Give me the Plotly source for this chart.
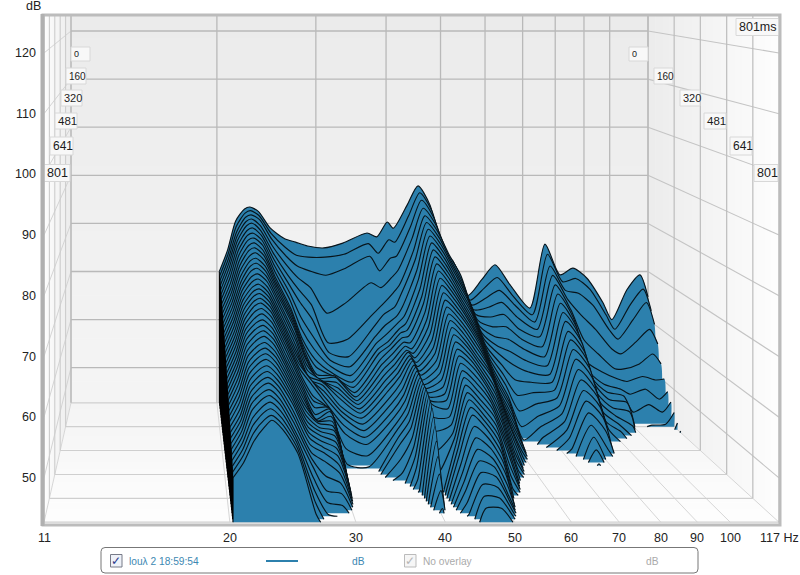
import math
import plotly.graph_objects as go

FREQS = [20.2,20.9,21.6,22.4,22.9,23.7,24.9,26.4,27.6,29.0,31.0,33.5,37.0,38.5,40.2,41.2,43.6,45.6,47.9,50.3,52.6,55.9,59.3,62.5,66.5,72.1,76.7,81.6,86.0,91.1,97.3,100.9,107.3,113.2,117.0]
SLICE_MS = [0,20,40,60,80,100,120,140,160,180,200,220,240,260,280,300,320,340,360,380,400,421,441,461,481,501,521,541,561,581,601,621,641,661,681,701,721,741,761,781,801]

S00 = [70,74.5,80.5,83,83.4,82.5,79,76.8,76.1,75.3,74.9,75.9,78,77.2,80.3,79,83.8,87.8,83.8,74.5,72.2,65,68.4,71.4,67.2,62.4,75.7,69.3,70.7,68.6,63.5,60,66.2,69.3,64.7]
S01 = [69.5,74,79.7,82.5,83,82,78.3,75.4,73.8,73.4,73.4,74,76.2,74.2,77,76.5,82,86.7,83,74.8,71.8,64.5,67,69.2,65.5,61.5,74,68.3,69,66.8,61.5,58.5,63.5,66.8,62.3]
S02 = [69,73.5,79,82,82.5,81.5,77.5,74,72,71,70.1,71.5,74,71,73.6,74,80,85.5,82,75,71.5,64,65.5,67,64,60.5,72,67,66.4,64,59,57,61,64.5,60]
S03 = [68.5,73,78.5,81.5,82,80.7,76.5,72.5,70,68,62.8,65,69,68,70.1,71.5,78,84.2,81,75,71.2,63.5,64,65,62,59.5,70.5,65.5,62.4,59.5,55.5,54.5,57,59.5,56.5]
S04 = [68,72.5,78,81,81.5,80,75.5,71,68,65,57.3,58,63,65,67.4,69,76,83,80,75,71,63,62.5,63,60,58.5,69,64,57.9,55,52,52,53,55,53]
S05 = [67.5,71.9,77.4,80.4,80.9,79.4,74.6,69.7,66,62.5,55.8,55,61,63.5,65,67.5,74.5,82,79,74.2,70,62.3,61,61,58.5,57,67.6,62.8,54,52,50.5,50,51,50.3,50.5]
S06 = [67,71.3,76.8,79.8,80.2,78.8,73.7,68.4,63.5,59.5,54.8,53.5,59.5,61.8,63.5,65.5,72.8,81,78,73.4,69.1,61.5,59.5,59,57,55.5,66.2,61.6,52.5,50,49,48,49,47,48.5]
S07 = [66.5,70.6,76.2,79.2,79.6,78.2,72.8,67.2,61.5,57.5,54,52.3,58.7,60.5,62.7,64,71.4,80,77,72.5,68.3,60.7,58.2,57,55.2,54.2,64.8,60.5,51.7,49,48.2,45,46.5,45,47]
S08 = [66,70,75.5,78.5,79,77.5,72,66,60,56,53.3,51.5,58,59.5,62,63,70,79,76,71.5,67.5,60,57,55,53.5,53,63.5,59.5,51,48,47.5,42,43,43.2,45.5]
S09 = [65.5,69.5,74.9,77.9,78.4,76.9,71.5,65.5,59.3,55,53.2,51,57.7,59.2,61.7,62.2,68.8,78,75,70.6,66.6,59.1,55.5,52.5,52,52,62,58.2,49.7,47,46.2,40,40,40,44]
S10 = [65,69,74.3,77.2,77.8,76.3,71,65,58.8,54,53.8,50.5,57,59,61.2,61.5,67.8,77,74,69.7,65.8,58.3,54,50,50.5,51,60.8,57,48.5,46,44,40,40,40,43]
S11 = [64.5,68.5,73.6,76.6,77.1,75.6,70.5,64.5,58.3,53.8,54,50.2,56.5,58.5,60.8,60.7,66.6,76,73,68.8,64.9,57.4,52.5,47.5,48.8,50,59.4,55.8,47.2,45,42,40,40,40,40]
S12 = [64,68,73,76,76.5,75,70,64,58,54,53.5,50,56,58,60.5,60,65.5,75,72,68,64,56.5,51,45,47,49,58,54.5,46,44,40,40,40,40,40]
S13 = [63.5,67.5,72.5,75.4,75.9,74.4,69.4,63.2,57.4,54.5,53,49.8,55.5,57.6,60.2,59.6,64.6,74,71.1,67.2,63.2,55.6,50,43,45.5,48,56.5,53,45,42,40,40,40,40,40]
S14 = [63,67,72,74.7,75.2,73.8,68.8,62.5,56.8,55,52.5,49.5,55,57.2,60.3,59.2,63.7,73,70.2,66.5,62.5,54.7,49,40,44,47,55,51.8,40,40,40,40,40,40,40]
S15 = [62.5,66.5,71.5,74.1,74.6,73.1,68.1,61.7,56.2,55.2,52,49.2,54.5,56.8,60.1,58.8,62.8,72,69.3,65.7,61.8,53.8,48,40,42.5,46,53.5,50.4,40,40,40,40,40,40,40]
S16 = [62,66,71,73.5,74,72.5,67.5,61,56,55,51,48.8,54,56.5,60,58.5,62,71,68.5,65,61,53,47,40,41,45,52,49,40,40,40,40,40,40,40]
S17 = [61.5,65.5,70.5,73,73.5,72,67,60.5,56.5,54.4,50.5,48.2,53.2,55.9,60,58.1,61.3,70.1,67.6,64.1,60.3,52.2,46,40,40,43.5,50.3,47,40,40,40,40,40,40,40]
S18 = [61,65,70,72.5,73,71.5,66.5,60,57,53.8,50,47.5,52.5,55.2,59.7,57.8,60.5,69.2,66.8,63.2,59.7,51.5,45,40,40,42,48.5,44,40,40,40,40,40,40,40]
S19 = [60.5,64.5,69.5,72,72.5,71,66,59.5,56.5,53.2,49,46.8,51.7,54.6,59.7,57.4,59.7,68.4,65.9,62.3,59,50.7,44,40,40,40,46.8,41,40,40,40,40,40,40,40]
S20 = [60,64,69,71.5,72,70.5,65.5,59,55,53,48,46,51,54,59.5,57,59,67.5,65,61.5,58.4,50,43,40,40,40,45,40,40,40,40,40,40,40,40]
S21 = [59.5,63.5,68.5,70.9,71.4,69.9,64.9,58.5,54.5,53.4,45.8,44.5,50.2,53.3,59.4,56.8,58.3,66.6,64.3,60.8,57.3,48.8,41.5,40,40,40,43,40,40,40,40,40,40,40,40]
S22 = [59,63,68,70.2,70.8,69.3,64.3,58,53.8,53.8,43.5,43,49.6,52.6,59.2,56.5,57.5,65.7,63.5,60,56.2,47.5,40,40,40,40,40,40,40,40,40,40,40,40,40]
S23 = [58.5,62.5,67.5,69.6,70.1,68.6,63.6,57.5,53,54,41,40,48.8,51.8,59.1,56.2,56.7,64.8,62.8,59.2,55.1,46.2,40,40,40,40,40,40,40,40,40,40,40,40,40]
S24 = [58,62,67,69,69.5,68,63,57,52.6,54,40,40,48,51,59,56,56,64,62,58.5,54,45,40,40,40,40,40,40,40,40,40,40,40,40,40]
S25 = [57.5,61.4,66.4,68.4,68.9,67.4,62.5,56.5,52.8,53.6,40,40,46,49.8,58.9,55.8,55,63.1,61,57.6,52.8,43.8,40,40,40,40,40,40,40,40,40,40,40,40,40]
S26 = [57,60.8,65.8,67.8,68.3,66.8,62,56,53.2,53.2,40,40,44,48.6,58.8,54,54,62.2,60,56.8,51.5,42.5,40,40,40,40,40,40,40,40,40,40,40,40,40]
S27 = [56.5,60.2,65.2,67.1,67.6,66.1,61.5,55.5,53.3,52.8,40,40,42,47.3,58.6,52,53,61.4,59,55.9,50.3,41,40,40,40,40,40,40,40,40,40,40,40,40,40]
S28 = [56,59.5,64.5,66.5,67,65.5,61,55,53,52.5,40,40,40,46,58.5,49,52,60.5,58,55,49,40,40,40,40,40,40,40,40,40,40,40,40,40,40]
S29 = [55.5,58.9,63.9,65.9,66.4,64.9,60.5,54.5,52.8,52,40,40,40,44.5,58,45.5,51.5,59.6,57.1,53.9,47.2,40,40,40,40,40,40,40,40,40,40,40,40,40,40]
S30 = [55,58.3,63.3,65.3,65.8,64.3,60,54,52.5,51.4,40,40,40,43,57.3,40,51,58.8,56.2,52.8,45.5,40,40,40,40,40,40,40,40,40,40,40,40,40,40]
S31 = [54.5,57.6,62.6,64.6,65.1,63.6,59.5,53.5,52,50.8,40,40,40,41,56.2,40,50.5,57.9,55.4,51.7,43.8,40,40,40,40,40,40,40,40,40,40,40,40,40,40]
S32 = [54,57,62,64,64.5,63,59,53,51.5,50,40,40,40,40,55,40,50,57,54.5,50.5,42,40,40,40,40,40,40,40,40,40,40,40,40,40,40]
S33 = [53.5,56.5,61.4,63.4,63.9,62.4,58.2,52.3,51,49,40,40,40,40,53,40,49,55.5,53.4,49.3,40,40,40,40,40,40,40,40,40,40,40,40,40,40,40]
S34 = [53,56,60.8,62.8,63.3,61.8,57.5,51.5,50,48,40,40,40,40,50.8,40,48,54,52.2,48,40,40,40,40,40,40,40,40,40,40,40,40,40,40,40]
S35 = [52.5,55.5,60.2,62.1,62.6,61.1,56.8,50.8,48,46.8,40,40,40,40,48.3,40,47,52.5,51,46.5,40,40,40,40,40,40,40,40,40,40,40,40,40,40,40]
S36 = [52,55,59.5,61.5,62,60.5,56,50,46,45.5,40,40,40,40,46,40,46,51,50,45,40,40,40,40,40,40,40,40,40,40,40,40,40,40,40]
S37 = [51.5,54.4,58.6,60.7,61.3,59.8,55.5,48.5,44.5,44,40,40,40,40,43.5,40,44.5,49.5,48.8,44.3,40,40,40,40,40,40,40,40,40,40,40,40,40,40,40]
S38 = [51,53.8,57.8,60,60.6,59.1,55,47,43,42.5,40,40,40,40,41.5,40,43,48,47.5,43.5,40,40,40,40,40,40,40,40,40,40,40,40,40,40,40]
S39 = [50.5,53.2,56.9,59.2,59.9,58.5,54.5,45.5,41,40,40,40,40,40,40,40,41,46.5,46.2,42.8,40,40,40,40,40,40,40,40,40,40,40,40,40,40,40]
S40 = [50,52.5,56,58.5,59.5,58,54,44,40,40,40,40,40,40,40,40,40,45,45,42,40,40,40,40,40,40,40,40,40,40,40,40,40,40,40]
SLICES = [S00,S01,S02,S03,S04,S05,S06,S07,S08,S09,S10,S11,S12,S13,S14,S15,S16,S17,S18,S19,S20,S21,S22,S23,S24,S25,S26,S27,S28,S29,S30,S31,S32,S33,S34,S35,S36,S37,S38,S39,S40]

FREQ_TICKS = [11,20,30,40,50,60,70,80,90,100,117]
FREQ_LABELS = ["11","20","30","40","50","60","70","80","90","100","117 Hz"]
DB_TICKS = [120,110,100,90,80,70,60,50]
TIME_TICKS = [0,160,320,481,641,801]

F_MIN, F_MAX, T_MAX, DB_TOP, DB_FLOOR = 11.0, 117.0, 801.0, 120.0, 42.7
PLOT_TOP = 16

def px(f, ms):
    u = math.log10(f / F_MIN) / math.log10(F_MAX / F_MIN)
    t = ms / T_MAX
    back, front = 71 + 577 * u, 44 + 735 * u
    return back + t * (front - back)

def py(db, ms):
    k = DB_TOP - db
    t = ms / T_MAX
    back, front = 31 + 4.81 * k, 53 + 6.07 * k
    return back + t * (front - back)

def mix(c0, c1, a):
    return "rgb({},{},{})".format(*[round(p + (q - p) * a) for p, q in zip(c0, c1)])

fig = go.Figure()

def poly(xs, ys, color):
    fig.add_trace(go.Scatter(x=xs, y=ys, mode="lines", fill="toself", fillcolor=color,
                             line=dict(width=0, color=color), hoverinfo="skip", showlegend=False))

def seglines(segs, color, width):
    xs, ys = [], []
    for (a, b) in segs:
        xs += [a[0], b[0], None]
        ys += [a[1], b[1], None]
    fig.add_trace(go.Scatter(x=xs, y=ys, mode="lines", line=dict(color=color, width=width),
                             hoverinfo="skip", showlegend=False))

# walls and floor
BACK_TOP, BACK_BOTTOM = (235,235,235), (245,245,245)
NEAR = (254,254,254)
STEPS = 18
for i in range(STEPS):
    a0, a1 = i / STEPS, (i + 1) / STEPS
    y0 = PLOT_TOP + (py(DB_FLOOR, 0) - PLOT_TOP) * a0
    y1 = PLOT_TOP + (py(DB_FLOOR, 0) - PLOT_TOP) * a1
    poly([px(F_MIN,0),px(F_MAX,0),px(F_MAX,0),px(F_MIN,0)], [y0,y0,y1+0.5,y1+0.5], mix(BACK_TOP, BACK_BOTTOM, a0))
    m0, m1 = a0 * T_MAX, a1 * T_MAX
    c = mix((236,236,236), NEAR, a0)
    poly([px(F_MAX,m0),px(F_MAX,m1)+0.5,px(F_MAX,m1)+0.5,px(F_MAX,m0)],
         [PLOT_TOP,PLOT_TOP,py(DB_FLOOR,m1),py(DB_FLOOR,m0)], c)
    poly([px(F_MIN,m0),px(F_MIN,m1)-0.5,px(F_MIN,m1)-0.5,px(F_MIN,m0)],
         [PLOT_TOP,PLOT_TOP,py(DB_FLOOR,m1),py(DB_FLOOR,m0)], c)
    poly([px(F_MIN,m0),px(F_MAX,m0),px(F_MAX,m1),px(F_MIN,m1)],
         [py(DB_FLOOR,m0),py(DB_FLOOR,m0),py(DB_FLOOR,m1)+0.5,py(DB_FLOOR,m1)+0.5], mix((244,244,244), NEAR, a0))

# grid
seglines([((px(f,T_MAX),py(DB_FLOOR,T_MAX)),(px(f,0),py(DB_FLOOR,0))) for f in FREQ_TICKS], "#d6d6d6", 1)
seglines([((px(F_MIN,m),py(DB_FLOOR,m)),(px(F_MAX,m),py(DB_FLOOR,m))) for m in TIME_TICKS], "#cfcfcf", 1.2)
seglines([((px(F_MIN,0),py(d,0)),(px(F_MIN,T_MAX),py(d,T_MAX))) for d in DB_TICKS], "#d4d4d4", 1)
seglines([((px(F_MAX,0),py(d,0)),(px(F_MAX,T_MAX),py(d,T_MAX))) for d in DB_TICKS], "#c4c4c4", 1.1)
seglines([((px(F_MIN,m),PLOT_TOP),(px(F_MIN,m),py(DB_FLOOR,m))) for m in TIME_TICKS], "#cccccc", 1.1)
seglines([((px(F_MAX,m),PLOT_TOP),(px(F_MAX,m),py(DB_FLOOR,m))) for m in TIME_TICKS], "#bdbdbd", 1.2)
seglines([((px(F_MIN,0),py(d,0)),(px(F_MAX,0),py(d,0))) for d in DB_TICKS], "#b9b9b9", 1.3)
seglines([((px(f,0),PLOT_TOP),(px(f,0),py(DB_FLOOR,0))) for f in FREQ_TICKS], "#b9b9b9", 1.3)

# waterfall, back to front
BLUE = "#2c80ad"
INK = "#08141b"
def crossing(a, b, xa, xb):
    # where the straight piece from level a (above) to level b (below) meets the floor
    return xa + (xb - xa) * (a - DB_FLOOR) / (a - b)

for ms, row in zip(SLICE_MS, SLICES):
    n = len(row)
    xs = [px(f, ms) for f in FREQS]
    ys = [py(v, ms) for v in row]
    yf = py(DB_FLOOR, ms)
    lx, ly = [], []
    i = 0
    while i < n:
        if row[i] <= DB_FLOOR:
            i += 1
            continue
        j = i
        while j + 1 < n and row[j + 1] > DB_FLOOR:
            j += 1
        rx, ry = xs[i:j+1], ys[i:j+1]
        if i > 0:
            rx = [crossing(row[i], row[i-1], xs[i], xs[i-1])] + rx
            ry = [yf] + ry
        if j < n - 1:
            rx = rx + [crossing(row[j], row[j+1], xs[j], xs[j+1])]
            ry = ry + [yf]
        fig.add_trace(go.Scatter(x=rx + [rx[-1], rx[-1], rx[0], rx[0]], y=ry + [yf, yf, yf, yf],
                                 mode="lines", fill="toself", fillcolor=BLUE,
                                 line=dict(width=0, color=BLUE, shape="spline", smoothing=0.7),
                                 hoverinfo="skip", showlegend=False))
        lx += rx + [None]
        ly += ry + [None]
        i = j + 1
    fig.add_trace(go.Scatter(x=lx, y=ly, mode="lines",
                             line=dict(color=INK, width=1.15, shape="spline", smoothing=0.7),
                             connectgaps=False, hoverinfo="skip", showlegend=False))

# vertical left edges of all slices
seglines([((px(FREQS[0],ms),py(max(r[0],DB_FLOOR),ms)),(px(FREQS[0],ms),py(DB_FLOOR,ms)))
          for ms, r in zip(SLICE_MS, SLICES)], "#000000", 1.1)

FONT = "Liberation Sans"
ann = []
def text(x, y, s, size=12.5, color="#222222", anchor="center", **kw):
    ann.append(dict(x=x, y=y, text=s, xref="x", yref="y", showarrow=False, xanchor=anchor, yanchor="middle",
                    font=dict(family=FONT, size=size, color=color), **kw))

for d in DB_TICKS:
    text(38, py(d, T_MAX), str(d), anchor="right")
text(33, 6, "dB", anchor="center")
for f, s in zip(FREQ_TICKS, FREQ_LABELS):
    if s.endswith("Hz"):
        text(px(f, T_MAX) - 21, 538, s, anchor="left")
    else:
        text(px(f, T_MAX), 538, s)

# time labels (boxes)
BOX_Y = [54, 76, 98, 121, 146, 173]
BOX_H = [14, 16, 16, 16, 18, 17]
BOX_SIZE = [9, 10, 11, 11.5, 12, 12.5]
LEFT_X = [71, 66, 61, 55, 50, 44]
LEFT_W = [19, 20, 21, 22, 23, 26]
RIGHT_X = [629, 654, 680, 704, 730, 754]
RIGHT_W = [19, 19, 20, 22, 22, 24]
shapes = []
def box(x0, y, w, h, s, size, align="left", pad=1):
    shapes.append(dict(type="rect", xref="x", yref="y", x0=x0, x1=x0+w, y0=y-h/2, y1=y+h/2,
                       fillcolor="#f8f8f8", line=dict(color="#d8d8d8", width=1)))
    text(x0 + pad, y, s, size=size, color="#1c1c1c", anchor="left")
for lab, y, h, sz, x, w in zip(TIME_TICKS, BOX_Y, BOX_H, BOX_SIZE, LEFT_X, LEFT_W):
    box(x, y, w, h, str(lab), sz)
for lab, y, h, sz, x, w in zip(TIME_TICKS, BOX_Y, BOX_H, BOX_SIZE, RIGHT_X, RIGHT_W):
    box(x, y, w, h, str(lab), sz)
box(736, 27, 43, 17, "801ms", 12.5)

# frame
shapes.append(dict(type="rect", xref="x", yref="y", x0=43, x1=780, y0=15, y1=525, line=dict(color="#bcbcbc", width=3)))
shapes.append(dict(type="line", xref="x", yref="y", x0=42.5, x1=42.5, y0=14, y1=526, line=dict(color="#b0b0b0", width=4)))

# legend panel
shapes.append(dict(type="path", xref="x", yref="y", fillcolor="white", line=dict(color="#777777", width=1),
                   path="M 105 547.5 L 694 547.5 Q 698 547.5 698 551.5 L 698 569 Q 698 573 694 573 L 105 573 Q 101 573 101 569 L 101 551.5 Q 101 547.5 105 547.5 Z"))
shapes.append(dict(type="rect", xref="x", yref="y", x0=110.5, x1=122, y0=554.5, y1=567, fillcolor="#eef1f8", line=dict(color="#777a88", width=1)))
shapes.append(dict(type="rect", xref="x", yref="y", x0=404.5, x1=416, y0=554.5, y1=567, fillcolor="#f6f6f6", line=dict(color="#bbbbbb", width=1)))
shapes.append(dict(type="line", xref="x", yref="y", x0=266, x1=298, y0=561, y1=561, line=dict(color="#2c80ad", width=2)))
text(116.3, 560.5, "✓", size=12, color="#2a3a8c")
text(410.3, 560.5, "✓", size=12, color="#b5b5b5")
text(127, 561, "louλ 2 18:59:54", size=10.2, color="#3d88b2", anchor="left")
text(358.5, 561, "dB", size=10.2, color="#3d88b2")
text(421, 561, "No overlay", size=10.2, color="#aaaaaa", anchor="left")
text(652, 561, "dB", size=10.2, color="#aaaaaa")

fig.update_layout(width=800, height=575, autosize=False, margin=dict(l=0, r=0, t=0, b=0),
                  paper_bgcolor="white", plot_bgcolor="white", showlegend=False,
                  xaxis=dict(range=[0, 800], visible=False, fixedrange=True),
                  yaxis=dict(range=[575, 0], visible=False, fixedrange=True),
                  shapes=shapes, annotations=ann)
fig.write_html("out.html", config=dict(displayModeBar=False),
               post_script="document.body.style.margin='0';document.body.style.overflow='hidden';")
